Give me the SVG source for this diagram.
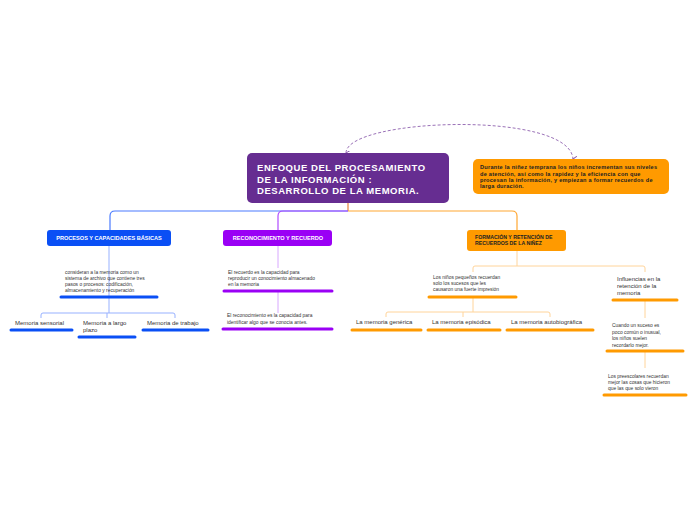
<svg xmlns="http://www.w3.org/2000/svg" width="696" height="520" viewBox="0 0 696 520">
<style>
text{font-family:"Liberation Sans",Arial,sans-serif}
.t{font-size:4.9px;fill:#333}
.c{font-size:6px;fill:#333}
.hb{font-size:5.6px;font-weight:bold;fill:#fff}
.ho{font-size:5.2px;font-weight:bold;fill:#222}
.hn{font-size:5.6px;font-weight:bold;fill:#222;letter-spacing:0.25px}
.bb{stroke:#0A4FF5;stroke-width:3;stroke-linecap:round}
.bp{stroke:#9A00F5;stroke-width:3;stroke-linecap:round}
.bo{stroke:#FF9A00;stroke-width:3;stroke-linecap:round}
.lb{fill:none;stroke:#97B1FF;stroke-width:1}
.lp{fill:none;stroke:#D8A8FF;stroke-width:1}
.lo{fill:none;stroke:#FFD49A;stroke-width:1}
</style>
<defs>
<marker id="ah" viewBox="0 0 6 6" refX="3" refY="5" markerWidth="5" markerHeight="5" orient="auto-start-reverse" markerUnits="userSpaceOnUse">
<path d="M0,0 L3,5 L6,0" fill="none" stroke="#8E5FB0" stroke-width="1.2"/>
</marker>
</defs>
<rect width="696" height="520" fill="#fff"/>
<g id="connectors">
<path d="M346,153 C346,118 570,110 573,159" fill="none" stroke="#9B72B8" stroke-width="1" stroke-dasharray="3,2" marker-start="url(#ah)" marker-end="url(#ah)"/>
<path d="M348,203 V211" fill="none" stroke="#E8813A" stroke-width="1.2"/>
<path d="M348,211 H115 Q110,211 110,216 V230" fill="none" stroke="#4A7BFF" stroke-width="1.2"/>
<path d="M348,211 H283 Q278,211 278,216 V230" fill="none" stroke="#B04BFF" stroke-width="1.2"/>
<path d="M348,211 H512 Q517,211 517,216 V230" fill="none" stroke="#FFA733" stroke-width="1.2"/>
<path class="lb" d="M109,246 V297"/>
<path class="lb" d="M109,297 V313 M41,318 V315 Q41,313 43,313 H173 Q175,313 175,315 V318 M107,313 V318"/>
<path class="lp" d="M278,246 V268 M278,292 V313"/>
<path class="lo" d="M517,251 V266 M473,272 V268 Q473,266 475,266 H643 Q645,266 645,268 V272"/>
<path class="lo" d="M473,297 V312 M386,317 V314 Q386,312 388,312 H548 Q550,312 550,314 V317 M463,312 V317"/>
<path class="lo" d="M645,301 V318 M645,352 V368"/>
</g>
<g id="central">
<rect x="247" y="153" width="202" height="50" rx="5" fill="#662D91"/>
<text x="257" y="171" font-size="9.5" font-weight="bold" fill="#fff" letter-spacing="0.55">ENFOQUE DEL PROCESAMIENTO</text>
<text x="257" y="183" font-size="9.5" font-weight="bold" fill="#fff" letter-spacing="0.55">DE LA INFORMACIÓN :</text>
<text x="257" y="194" font-size="9.5" font-weight="bold" fill="#fff" letter-spacing="0.55">DESARROLLO DE LA MEMORIA.</text>
</g>
<g id="nota">
<rect x="473" y="159" width="196" height="35" rx="5" fill="#FF9A00"/>
<text class="hn" x="480" y="169">Durante la niñez temprana los niños incrementan sus niveles</text>
<text class="hn" x="480" y="175.5">de atención, así como la rapidez y la eficiencia con que</text>
<text class="hn" x="480" y="181.5">procesan la información, y empiezan a formar recuerdos de</text>
<text class="hn" x="480" y="187.5">larga duración.</text>
</g>
<g id="procesos">
<rect x="47" y="230" width="124" height="16" rx="3" fill="#0A4FF5"/>
<text class="hb" x="109" y="240" text-anchor="middle">PROCESOS Y CAPACIDADES BÁSICAS</text>
</g>
<g id="procesos-desc">
<text class="t" x="65" y="273.5">consideran a la memoria como un</text>
<text class="t" x="65" y="279.5">sistema de archivo que contiene tres</text>
<text class="t" x="65" y="285.5">pasos o procesos: codificación,</text>
<text class="t" x="65" y="291.5">almacenamiento y recuperación</text>
<line class="bb" x1="61" y1="297" x2="157" y2="297"/>
</g>
<g id="mem-sensorial">
<text class="c" x="15" y="325">Memoria sensorial</text>
<line class="bb" x1="11" y1="330" x2="72" y2="330"/>
</g>
<g id="mem-largo">
<text class="c" x="83" y="325">Memoria a largo</text>
<text class="c" x="83" y="332">plazo</text>
<line class="bb" x1="79" y1="337" x2="135" y2="337"/>
</g>
<g id="mem-trabajo">
<text class="c" x="147" y="325">Memoria de trabajo</text>
<line class="bb" x1="143" y1="330" x2="208" y2="330"/>
</g>
<g id="reconocimiento">
<rect x="223" y="230" width="109" height="16" rx="3" fill="#9A00F5"/>
<text class="hb" x="278" y="240" text-anchor="middle">RECONOCIMIENTO Y RECUERDO</text>
</g>
<g id="recuerdo">
<text class="t" x="228" y="274">El recuerdo es la capacidad para</text>
<text class="t" x="228" y="280">reproducir un conocimiento almacenado</text>
<text class="t" x="228" y="286">en la memoria</text>
<line class="bp" x1="224" y1="291" x2="332" y2="291"/>
</g>
<g id="reconoc-desc">
<text class="t" x="227" y="317">El reconocimiento es la capacidad para</text>
<text class="t" x="227" y="323.5">identificar algo que se conocia antes.</text>
<line class="bp" x1="223" y1="329" x2="332" y2="329"/>
</g>
<g id="formacion">
<rect x="467" y="230" width="99" height="21" rx="3" fill="#FF9A00"/>
<text class="ho" x="475" y="239">FORMACIÓN Y RETENCIÓN DE</text>
<text class="ho" x="475" y="245">RECUERDOS DE LA NIÑEZ</text>
</g>
<g id="ninos">
<text class="t" x="433" y="279">Los niños pequeños recuerdan</text>
<text class="t" x="433" y="285">solo los sucesos que les</text>
<text class="t" x="433" y="291">causaron una fuerte impresión</text>
<line class="bo" x1="429" y1="297" x2="516" y2="297"/>
</g>
<g id="generica">
<text class="c" x="356" y="324">La memoria genérica</text>
<line class="bo" x1="352" y1="330" x2="421" y2="330"/>
</g>
<g id="episodica">
<text class="c" x="432" y="324">La memoria episódica</text>
<line class="bo" x1="428" y1="330" x2="500" y2="330"/>
</g>
<g id="autobiografica">
<text class="c" x="511" y="324">La memoria autobiográfica</text>
<line class="bo" x1="507" y1="330" x2="593" y2="330"/>
</g>
<g id="influencias">
<text class="c" x="617" y="281">Influencias en la</text>
<text class="c" x="617" y="288">retención de la</text>
<text class="c" x="617" y="295">memoria</text>
<line class="bo" x1="613" y1="300" x2="677" y2="300"/>
</g>
<g id="suceso">
<text class="t" x="612" y="327">Cuando un suceso es</text>
<text class="t" x="612" y="333.5">poco común o inusual,</text>
<text class="t" x="612" y="340">los niños suelen</text>
<text class="t" x="612" y="346.5">recordarlo mejor.</text>
<line class="bo" x1="607" y1="351" x2="683" y2="351"/>
</g>
<g id="preescolares">
<text class="t" x="608" y="378">Los preescolares recuerdan</text>
<text class="t" x="608" y="384">mejor las cosas que hicieron</text>
<text class="t" x="608" y="390">que las que solo vieron</text>
<line class="bo" x1="604" y1="395" x2="686" y2="395"/>
</g>
</svg>
